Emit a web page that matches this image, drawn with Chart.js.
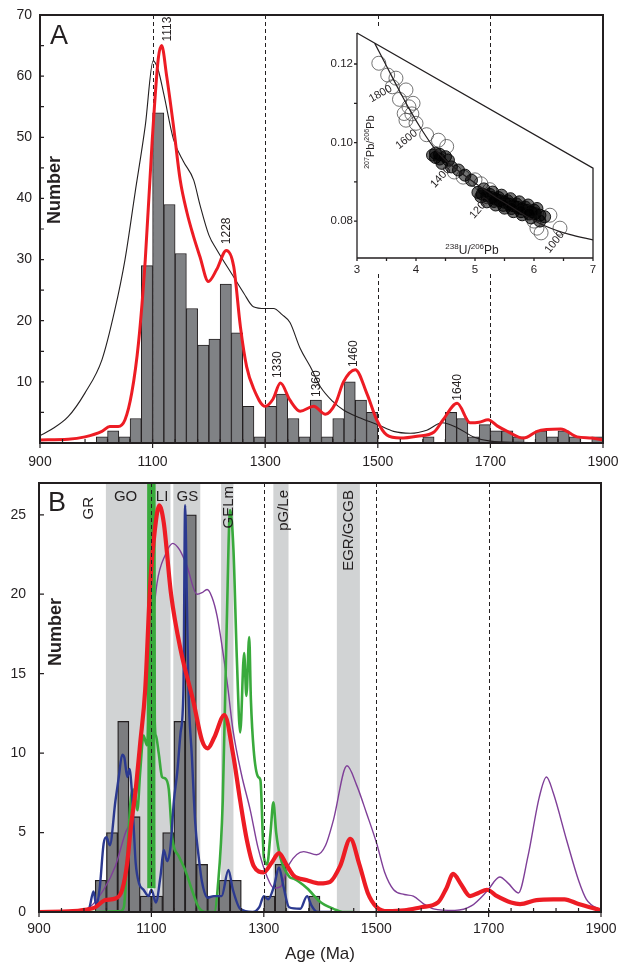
<!DOCTYPE html>
<html>
<head>
<meta charset="utf-8">
<script src="https://cdn.jsdelivr.net/npm/chart.js@4.4.1/dist/chart.umd.min.js"></script>
<style>
  html, body { margin: 0; padding: 0; background: #fff; }
  #wrap { position: relative; width: 619px; height: 968px; overflow: hidden; }
  canvas { position: absolute; }
</style>
</head>
<body>
<div id="wrap">
  <canvas id="chartA" width="619" height="480" style="left:0;top:0;width:619px;height:480px"></canvas>
  <canvas id="chartB" width="619" height="498" style="left:0;top:470px;width:619px;height:498px"></canvas>
  <canvas id="inset" width="283" height="252" style="left:318px;top:22px;width:283px;height:252px"></canvas>
</div>
<script>
const FONT = 'Arial, "Liberation Sans", Helvetica, sans-serif';
const INK = '#231f20';

// ---------- data: histogram bins (start age of each 20 Ma bin) ----------
const binStart = [900,920,940,960,980,1000,1020,1040,1060,1080,1100,1120,1140,1160,1180,1200,1220,1240,1260,1280,
  1300,1320,1340,1360,1380,1400,1420,1440,1460,1480,1500,1520,1540,1560,1580,1600,1620,1640,1660,1680,
  1700,1720,1740,1760,1780,1800,1820,1840,1860,1880];
const countsA = [0,0,0,0,0,1,2,1,4,29,54,39,31,22,16,17,26,18,6,1,6,8,4,1,7,1,4,10,7,5,
  0,0,0,0,1,0,5,4,1,3,2,2,1,0,2,1,2,1,0,1];
const countsB = [0,0,0,0,0,2,5,12,6,1,1,5,12,25,3,1,2,2,0,0,1,3,0,0,1,0,0,0,0,0,
  0,0,0,0,0,0,0,0,0,0,0,0,0,0,0,0,0,0,0,0];

// panel A curves
const redA_age = [900,950,980,1010,1024,1039,1051,1063,1075,1087,1099,1110,1116,1125,1137,1149,1161,1172,1184,1199,
  1214,1231,1244,1256,1267,1279,1300,1314,1327,1344,1362,1386,1407,1425,1439,1460,1481,1498,1516,1540,
  1570,1600,1616,1641,1664,1680,1696,1712,1730,1759,1783,1800,1825,1854,1880,1900];
const redA_n = [0.5,0.6,1.0,1.9,2.7,2.7,3.8,8.2,16.4,30,49,62.8,65,60,51.9,43,37.7,34,30.5,26.4,
  28.4,31.5,28.9,19,12.5,9,6,7.2,9.8,7,5.2,6,4.7,6.5,10,12,8,3.8,1.3,0.8,
  1.1,1.8,3.8,6.5,3.3,3.4,3.8,2.8,1.9,0.8,1.9,2.2,2.3,1.0,0.8,0.5];
const blackA_age = [900,920,950,980,1010,1033,1051,1069,1087,1101,1110,1120,1137,1155,1173,1184,1200,1214,1243,1262,
  1279,1300,1315,1330,1344,1362,1380,1398,1420,1439,1469,1500,1528,1558,1587,1614,1641,1670,1700,1750,1900];
const blackA_n = [1.2,2.2,4.3,8.2,13.6,21.8,30,41,51.9,62.5,61,57,49.7,46,43,39,34,31.6,27.3,24.5,
  22.3,22,22,21,19.7,15.5,12.5,9.2,6.8,5.4,4.1,3.0,1.9,1.6,2.1,3.3,2.5,1,0.3,0.1,0];

// peak labels A
const peakText = ['1113','1228','1330','1360','1460','1640'];
const peakLabelAge = [1126,1231,1323,1391,1458,1642];
const peakLabelN = [67.7,34.7,12.8,9.7,14.6,9.1];

// panel B curves
const redB_age = [900,960,992,1000,1018,1036,1048,1057,1063,1072,1080,1089,1098,1106,1114,1122,1135,1152,1175,1190,
  1200,1212,1230,1245,1258,1270,1282,1300,1314,1327,1340,1353,1377,1400,1418,1436,1454,1470,1485,1501,
  1520,1550,1580,1610,1625,1637,1650,1667,1682,1697,1715,1740,1756,1785,1815,1835,1860,1900];
const redB_n = [0,0.05,0.2,0.3,0.75,0.85,1.4,3.1,5.2,7.7,10.6,14,20.7,24,25.6,24.5,20,16.5,13.2,10.8,
  10.3,11,12.4,10,7,4.5,2.9,2.5,3.1,3.7,3,2.3,2.0,1.8,1.9,2.9,4.6,3,1.2,0.3,
  0.05,0.1,0.3,0.6,1.5,2.4,1.8,1.0,1.2,1.4,1.0,0.6,0.5,0.75,0.8,0.8,0.5,0.1];
const purpleB_age = [900,960,990,1015,1036,1054,1066,1078,1086,1092,1110,1125,1138,1150,1163,1181,1190,1199,1208,1217,
  1235,1245,1260,1276,1290,1306,1318,1330,1345,1371,1394,1410,1424,1448,1465,1483,1501,1515,1531,1550,
  1566,1585,1602,1640,1670,1697,1720,1735,1753,1770,1790,1803,1815,1839,1860,1874,1900];
const purpleB_n = [0,0.05,0.3,1.4,2.9,5,6,8.8,12.9,14.4,20.7,22.5,23.2,22.8,21.8,20,20.1,20.3,19.8,18.6,
  14.4,11.5,8.7,6.4,4,2.2,1.5,1.6,3.0,3.8,3.6,4.2,5.8,9.2,8,6.2,4.3,2.5,1.4,1.1,
  1.0,0.5,0.2,0.1,0.4,1.3,2.2,1.8,1.2,3.5,7.2,8.5,7.5,4.5,2,0.8,0.1];
const greenB_age = [940,1000,1045,1051,1057,1063,1069,1075,1080,1086,1092,1094,1096,1100,1104,1106,1108,1113,1119,1125,
  1131,1137,1149,1160,1172,1184,1195,1212,1218,1227,1234,1240,1246,1252,1258,1265,1269,1274,1277,1282,
  1290,1294,1300,1306,1312,1317,1322,1329,1346,1353,1377,1400,1424,1440,1460];
const greenB_n = [0,0,0.05,0.3,3.5,7,7.7,6.4,8.8,11.1,10.5,12,45,50,45,12,11.1,10,8.5,8.4,
  7.7,4.7,3.5,2.65,1.4,0.3,0,0,1.5,7,18,25.3,22.8,16,11.3,16.3,13.6,17.3,13.4,10.2,
  8.5,8.3,3.5,3,5,6.9,5,3.5,2.2,2.1,1.5,0.65,0.2,0,0];
// the very narrow green peak near 1100 Ma reads as a solid green column
const greenSpike_age = [1093.5,1095,1105,1106.5];
const greenSpike_n = [1.5,50,50,1.5];
const blueB_age = [985,990,997,1002,1008,1015,1020,1026,1036,1042,1048,1052,1057,1061,1065,1069,1072,1078,1086,1095,
  1100,1108,1116,1122,1128,1134,1140,1146,1152,1157,1160,1163,1166,1172,1178,1184,1190,1200,1211,1225,
  1237,1245,1258,1280,1292,1300,1308,1318,1327,1335,1345,1365,1377,1385,1395,1420];
const blueB_n = [0,0.3,1.3,0.4,1.5,4.3,4.7,4.2,7,8.5,9.9,9.7,8.5,9.0,7.7,5,3.1,1.8,1.4,1.0,
  1.4,0.6,2.2,3.9,3.2,4.1,7,8.8,11.3,14,25.6,20,14,9.8,5.6,3.5,1.9,0.9,1.0,1.0,
  2.65,1.4,0.2,0,0.3,1.0,0.8,1.6,2.8,1.6,0.3,0.2,1.0,0.4,0,0];

// panel B shaded age bands and their names
const bandFrom = [1019,1104,1139,1224,1317,1430];
const bandTo   = [1094,1134,1187,1246,1344,1471];
const bandName = ['GR','GO','LI','GS','GELm','pG/Le','EGR/GCGB'];
const bandNameAge = [988,1054,1119,1164,1237,1335,1452];
const bandNameUpright = [true,false,false,false,true,true,true];
const bandNameTop = [14,14,14,14,3,7,7];   // px below the frame top

// shared axis ticks
const dashedAges = [1100,1300,1500,1700];
const xLabels = [900,1100,1300,1500,1700,1900];
const xMinor = [940,980,1020,1060,1100,1140,1180,1220,1260,1300,1340,1380,1420,1460,1500,1540,1580,1620,1660,1700,1740,1780,1820,1860];
const yLabelsA = [10,20,30,40,50,60,70];
const yMinorA = [5,10,15,20,25,30,35,40,45,50,55,60,65];
const yLabelsB = [0,5,10,15,20,25];

// inset: concordia, analyses, frame
const concX = [3.3,3.5,3.7,3.9,4.1,4.3,4.5,4.7,5.0,5.3,5.6,5.9,6.2,6.6,7.0];
const concY = [0.1253,0.1195,0.1137,0.1082,0.1032,0.0988,0.0955,0.0930,0.0897,0.0866,0.0838,0.0810,0.0787,0.0766,0.0752];
const concAge = ['1800','1600','1400','1200','1000'];
const concAgeX = [3.40,3.84,4.42,5.08,6.35];
const concAgeY = [0.1124,0.1008,0.0912,0.0833,0.0746];
const concAgeRot = [-30,-39,-47,-49,-52];
const lightX = [3.37,3.52,3.66,3.6,3.83,3.88,3.8,3.93,3.83,4.0,3.72,3.95,4.38,4.52,4.18,5.0,5.1,5.25,6.05,6.12,6.44,6.27,6.0,4.65,4.8];
const lightY = [0.1202,0.1172,0.1164,0.1142,0.1134,0.1091,0.1074,0.1073,0.1057,0.1049,0.1110,0.1100,0.1006,0.0990,0.1020,0.0905,0.0895,0.0880,0.0782,0.0770,0.0782,0.0815,0.0800,0.0925,0.0912];
const denseX = [4.33,4.4,4.5,4.33,4.44,4.6,4.72,4.83,4.94,4.55,4.4,4.28,
  5.05,5.12,5.2,5.28,5.35,5.42,5.5,5.58,5.65,5.72,5.8,5.88,5.95,6.02,6.1,6.18,
  5.15,5.3,5.45,5.6,5.75,5.9,6.05,5.2,5.35,5.5,5.65,5.8,5.95,6.1,
  5.25,5.4,5.55,5.7,5.85,6.0,5.1,5.32,5.48,5.62,5.78,5.92];
const denseY = [0.0973,0.0970,0.0964,0.0962,0.0947,0.0938,0.0930,0.0917,0.0904,0.0955,0.0958,0.0968,
  0.0873,0.0869,0.0864,0.0860,0.0856,0.0852,0.0848,0.0843,0.0839,0.0835,0.0831,0.0827,0.0823,0.0819,0.0815,0.0811,
  0.0882,0.0874,0.0866,0.0857,0.0849,0.0841,0.0832,0.0849,0.0841,0.0833,0.0824,0.0816,0.0808,0.0800,
  0.0868,0.0860,0.0852,0.0844,0.0836,0.0828,0.0862,0.0850,0.0840,0.0832,0.0824,0.0818];
const wedgeX = [3, 7, 7];
const wedgeY = [0.1279, 0.0935, 0.0706];

// ---------- helpers ----------
const pts = (xs, ys) => xs.map((x, i) => ({ x: x, y: ys[i] }));
const bars = counts => binStart.map((b, i) => ({ x: b + 10, y: counts[i] }));
const fixedTicks = vals => s => { s.ticks = vals.map(v => ({ value: v })); };
const boxX = h => s => { s.height = h; s.paddingLeft = 0; s.paddingRight = 0; };
const boxY = w => s => { s.width = w; s.paddingTop = 0; s.paddingBottom = 0; };

function curve(data, color, width, order) {
  return { type: 'line', data: data, borderColor: color, borderWidth: width, pointRadius: 0,
           fill: false, cubicInterpolationMode: 'monotone', order: order };
}

function xScale(pad, h) {
  return { type: 'linear', min: 900, max: 1900, offset: false,
    grid: { display: false, drawTicks: false, offset: false }, border: { display: false },
    ticks: { font: { family: FONT, size: 14 }, color: INK, padding: pad, maxRotation: 0, autoSkip: false, callback: v => String(v) },
    afterBuildTicks: fixedTicks(xLabels), afterFit: boxX(h) };
}

function yScale(max, labels, pad, w) {
  return { type: 'linear', min: 0, max: max,
    grid: { display: false, drawTicks: false }, border: { display: false },
    ticks: { font: { family: FONT, size: 14 }, color: INK, padding: pad, autoSkip: false, callback: v => String(v) },
    afterBuildTicks: fixedTicks(labels), afterFit: boxY(w) };
}

function dashed(chart) {
  const { ctx, chartArea: a, scales: { x } } = chart;
  ctx.save();
  ctx.strokeStyle = INK; ctx.lineWidth = 1; ctx.setLineDash([4, 3]);
  dashedAges.forEach(age => {
    const px = Math.round(x.getPixelForValue(age)) + 0.5;
    ctx.beginPath(); ctx.moveTo(px, a.top); ctx.lineTo(px, a.bottom); ctx.stroke();
  });
  ctx.restore();
}

function frameAndTicks(chart, yMinor, yInLen) {
  const { ctx, chartArea: a, scales: { x, y } } = chart;
  ctx.save();
  ctx.strokeStyle = INK; ctx.lineWidth = 1.2;
  ctx.beginPath();
  xMinor.forEach(v => { const px = x.getPixelForValue(v); ctx.moveTo(px, a.bottom); ctx.lineTo(px, a.bottom - 4); });
  xLabels.forEach(v => { const px = x.getPixelForValue(v); ctx.moveTo(px, a.bottom); ctx.lineTo(px, a.bottom + 5); });
  yMinor.forEach(v => { const py = y.getPixelForValue(v); ctx.moveTo(a.left, py); ctx.lineTo(a.left + yInLen, py); });
  ctx.stroke();
  ctx.lineWidth = 2;
  ctx.strokeRect(a.left, a.top, a.right - a.left, a.bottom - a.top);
  ctx.restore();
}

function sideText(ctx, text, px, py, font, align) {
  ctx.save();
  ctx.translate(px, py); ctx.rotate(-Math.PI / 2);
  ctx.font = font; ctx.fillStyle = INK; ctx.textAlign = align || 'center'; ctx.textBaseline = 'middle';
  ctx.fillText(text, 0, 0);
  ctx.restore();
}

// ---------- panel A ----------
const decorA = {
  id: 'decorA',
  beforeDatasetsDraw(chart) { dashed(chart); },
  afterDatasetsDraw(chart) {
    const { ctx, chartArea: a, scales: { x, y } } = chart;
    peakText.forEach((t, i) => sideText(ctx, t, x.getPixelForValue(peakLabelAge[i]), y.getPixelForValue(peakLabelN[i]), '12px ' + FONT));
    sideText(ctx, 'Number', a.left + 15, 190, 'bold 18px ' + FONT);
    ctx.save();
    ctx.font = '27px ' + FONT; ctx.fillStyle = INK; ctx.textBaseline = 'middle';
    ctx.fillText('A', a.left + 10, a.top + 22);
    ctx.restore();
    frameAndTicks(chart, yMinorA, 4);
  }
};

new Chart(document.getElementById('chartA'), {
  data: { datasets: [
    curve(pts(redA_age, redA_n), '#ed1c24', 3, 1),
    curve(pts(blackA_age, blackA_n), INK, 1.1, 2),
    { type: 'bar', data: bars(countsA), backgroundColor: '#808285', borderColor: INK, borderWidth: 1,
      barPercentage: 1, categoryPercentage: 1, order: 3 }
  ]},
  options: {
    responsive: false, animation: false, events: [],
    layout: { padding: { left: 0, right: 16, top: 15, bottom: 0 } },
    plugins: { legend: { display: false }, tooltip: { enabled: false } },
    scales: { x: xScale(11, 37), y: yScale(70, yLabelsA, 8, 40) }
  },
  plugins: [decorA]
});

// ---------- panel B ----------
const decorB = {
  id: 'decorB',
  beforeDatasetsDraw(chart) {
    const { ctx, chartArea: a, scales: { x } } = chart;
    ctx.save();
    ctx.fillStyle = '#d1d3d4';
    bandFrom.forEach((f, i) => {
      const x0 = x.getPixelForValue(f), x1 = x.getPixelForValue(bandTo[i]);
      ctx.fillRect(x0, a.top, x1 - x0, a.bottom - a.top);
    });
    ctx.restore();
  },
  afterDatasetsDraw(chart) {
    const { ctx, chartArea: a, scales: { x } } = chart;
    dashed(chart);
    bandName.forEach((t, i) => {
      const px = x.getPixelForValue(bandNameAge[i]);
      if (bandNameUpright[i]) {
        sideText(ctx, t, px, a.top + bandNameTop[i], '15px ' + FONT, 'right');
      } else {
        ctx.save();
        ctx.font = '15px ' + FONT; ctx.fillStyle = INK; ctx.textAlign = 'center'; ctx.textBaseline = 'middle';
        ctx.fillText(t, px, a.top + bandNameTop[i]);
        ctx.restore();
      }
    });
    sideText(ctx, 'Number', a.left + 17, 632 - 470, 'bold 18px ' + FONT);
    ctx.save();
    ctx.font = '27px ' + FONT; ctx.fillStyle = INK; ctx.textBaseline = 'middle';
    ctx.fillText('B', a.left + 9, a.top + 21);
    ctx.restore();
    frameAndTicks(chart, yLabelsB, 5);
  }
};

const scaleBx = xScale(9, 56);
scaleBx.title = { display: true, text: 'Age (Ma)', font: { family: FONT, size: 17 }, color: INK, padding: { top: 0, bottom: 3 } };

const GREEN = '#39aa3c';
new Chart(document.getElementById('chartB'), {
  data: { datasets: [
    curve(pts(redB_age, redB_n), '#ed1c24', 4.2, 1),
    curve(pts(blueB_age, blueB_n), '#2b3990', 2.4, 2),
    curve(pts(greenB_age, greenB_n), GREEN, 2.6, 3),
    { type: 'line', data: pts(greenSpike_age, greenSpike_n), borderColor: GREEN, borderWidth: 1, backgroundColor: GREEN,
      pointRadius: 0, fill: { value: 1.5 }, order: 3 },
    curve(pts(purpleB_age, purpleB_n), '#7f3f98', 1.4, 4),
    { type: 'bar', data: bars(countsB), backgroundColor: '#7c7d80', borderColor: INK, borderWidth: 1.3,
      barPercentage: 1, categoryPercentage: 1, order: 5 }
  ]},
  options: {
    responsive: false, animation: false, events: [],
    layout: { padding: { left: 0, right: 18, top: 13, bottom: 0 } },
    plugins: { legend: { display: false }, tooltip: { enabled: false } },
    scales: { x: scaleBx, y: yScale(27, yLabelsB, 13, 39) }
  },
  plugins: [decorB]
});

// ---------- inset (concordia diagram) ----------
function supText(ctx, parts, px, py, size, supSize, align) {
  let w = 0;
  parts.forEach(p => { ctx.font = (p[1] ? supSize : size) + 'px ' + FONT; w += ctx.measureText(p[0]).width; });
  let cx = align === 'center' ? px - w / 2 : px;
  ctx.textBaseline = 'alphabetic'; ctx.textAlign = 'left'; ctx.fillStyle = INK;
  parts.forEach(p => {
    ctx.font = (p[1] ? supSize : size) + 'px ' + FONT;
    ctx.fillText(p[0], cx, p[1] ? py - size * 0.42 : py);
    cx += ctx.measureText(p[0]).width;
  });
}

const decorInset = {
  id: 'decorInset',
  beforeDraw(chart) {
    const { ctx, width, height } = chart;
    ctx.save();
    ctx.fillStyle = '#fff';
    ctx.beginPath();
    ctx.moveTo(0, 0); ctx.lineTo(53, 0); ctx.lineTo(width, 128); ctx.lineTo(width, height); ctx.lineTo(0, height);
    ctx.closePath(); ctx.fill();
    ctx.restore();
  },
  afterDatasetsDraw(chart) {
    const { ctx, chartArea: a, scales: { x, y } } = chart;
    ctx.save();
    ctx.strokeStyle = INK; ctx.lineWidth = 1.3;
    ctx.beginPath();
    ctx.moveTo(a.left, a.top); ctx.lineTo(a.left, a.bottom); ctx.lineTo(a.right, a.bottom);
    [3, 3.5, 4, 4.5, 5, 5.5, 6, 6.5, 7].forEach(v => { const px = x.getPixelForValue(v); ctx.moveTo(px, a.bottom); ctx.lineTo(px, a.bottom + 3); });
    [0.08, 0.09, 0.10, 0.11, 0.12].forEach(v => { const py = y.getPixelForValue(v); ctx.moveTo(a.left, py); ctx.lineTo(a.left - 3, py); });
    ctx.stroke();
    ctx.font = '11px ' + FONT; ctx.fillStyle = INK; ctx.textAlign = 'center'; ctx.textBaseline = 'middle';
    concAge.forEach((t, i) => {
      ctx.save();
      ctx.translate(x.getPixelForValue(concAgeX[i]), y.getPixelForValue(concAgeY[i]));
      ctx.rotate(concAgeRot[i] * Math.PI / 180);
      ctx.fillText(t, 0, 0);
      ctx.restore();
    });
    supText(ctx, [['238', 1], ['U/', 0], ['206', 1], ['Pb', 0]], x.getPixelForValue(4.95), y.getPixelForValue(0.0717), 12, 8, 'center');
    ctx.save();
    ctx.translate(x.getPixelForValue(3.22), y.getPixelForValue(0.1001));
    ctx.rotate(-Math.PI / 2);
    supText(ctx, [['207', 1], ['Pb/', 0], ['206', 1], ['Pb', 0]], 0, 4, 11, 7, 'center');
    ctx.restore();
    ctx.restore();
  }
};

new Chart(document.getElementById('inset'), {
  type: 'scatter',
  data: { datasets: [
    { type: 'line', data: pts(concX, concY), borderColor: INK, borderWidth: 1.2, pointRadius: 0, cubicInterpolationMode: 'monotone', order: 0 },
    { type: 'line', data: pts(wedgeX, wedgeY), borderColor: INK, borderWidth: 1.3, pointRadius: 0, clip: false, order: 1 },
    { data: pts(denseX, denseY), pointRadius: 6, borderWidth: 1, borderColor: 'rgba(10,10,10,0.95)', backgroundColor: 'rgba(0,0,0,0.55)', order: 2 },
    { data: pts(lightX, lightY), pointRadius: 7, borderWidth: 1, borderColor: 'rgba(70,70,70,0.75)', backgroundColor: 'rgba(0,0,0,0)', order: 3 }
  ]},
  options: {
    responsive: false, animation: false, events: [],
    layout: { padding: { left: 0, right: 4, top: 11, bottom: 0 } },
    plugins: { legend: { display: false }, tooltip: { enabled: false } },
    scales: {
      x: { type: 'linear', min: 3, max: 7, grid: { display: false, drawTicks: false }, border: { display: false },
           ticks: { font: { family: FONT, size: 11.5 }, color: INK, padding: 5, maxRotation: 0, callback: v => String(v) },
           afterBuildTicks: fixedTicks([3, 4, 5, 6, 7]), afterFit: boxX(16) },
      y: { type: 'linear', min: 0.0706, max: 0.1279, grid: { display: false, drawTicks: false }, border: { display: false },
           ticks: { font: { family: FONT, size: 11.5 }, color: INK, padding: 4, callback: v => v.toFixed(2) },
           afterBuildTicks: fixedTicks([0.08, 0.10, 0.12]), afterFit: boxY(39) }
    }
  },
  plugins: [decorInset]
});
</script>
</body>
</html>
